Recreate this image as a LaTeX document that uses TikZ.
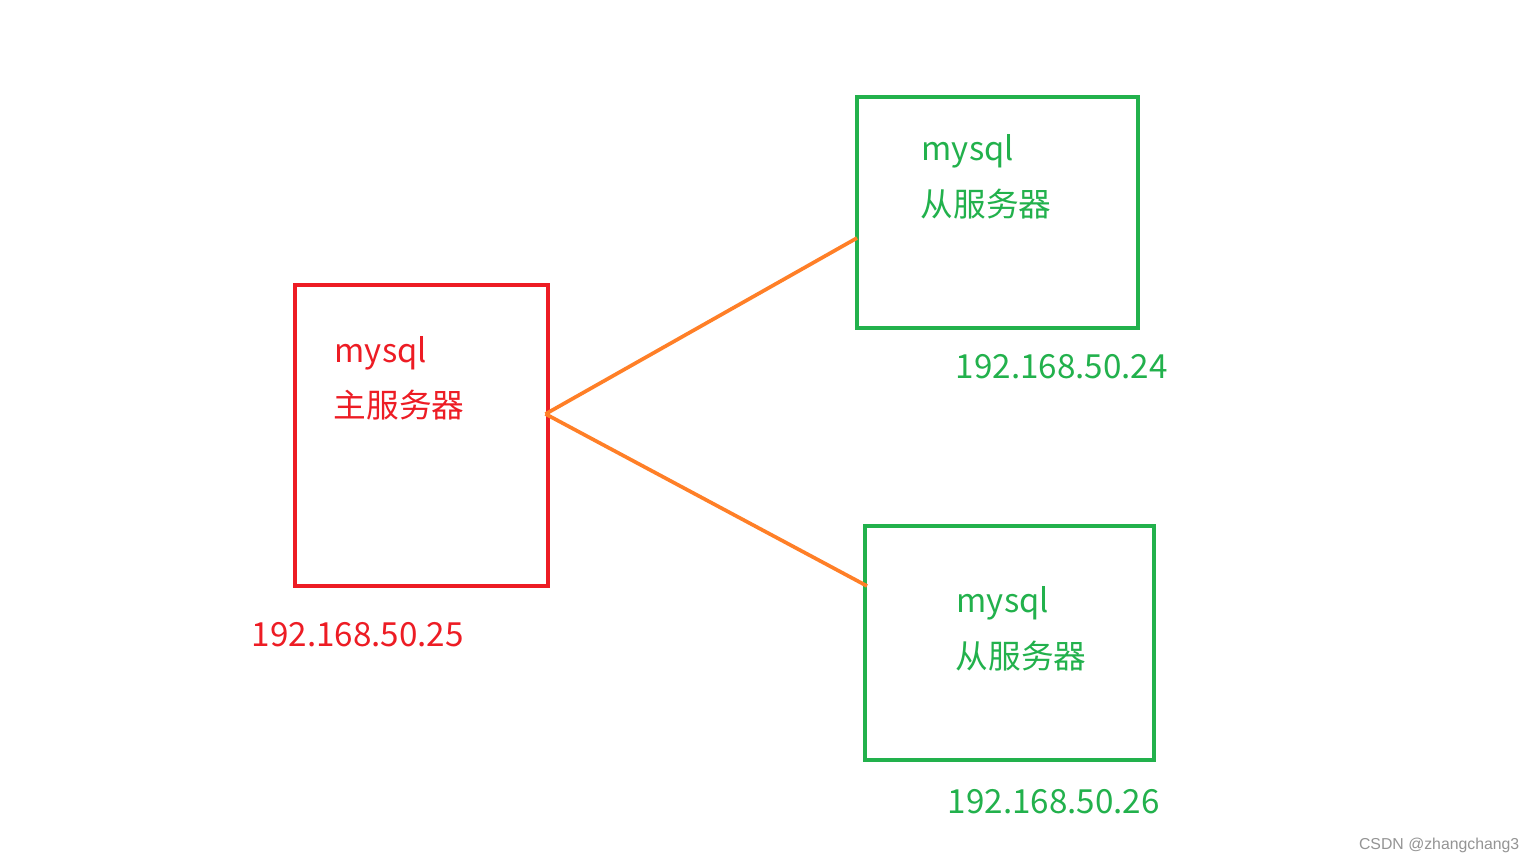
\documentclass[tikz,border=0pt]{standalone}
\usepackage{fontspec}
\setmainfont{Noto Sans CJK SC}
\newfontfamily\markfont{Liberation Sans}
\definecolor{zhured}{HTML}{ED1C24}
\definecolor{conggreen}{HTML}{22B14C}
\definecolor{linkorange}{HTML}{FF7F27}
\tikzset{
  zhubox/.style={draw=zhured, line width=1.1pt, inner sep=0pt},
  congbox/.style={draw=conggreen, line width=1.1pt, inner sep=0pt},
  zhutext/.style={text=zhured, anchor=west, inner sep=0pt, font=\fontsize{9.3}{11}\selectfont},
  congtext/.style={text=conggreen, anchor=west, inner sep=0pt, font=\fontsize{9.3}{11}\selectfont},
  iptext/.style={anchor=west, inner sep=0pt, font=\fontsize{9.45}{11}\selectfont},
  link/.style={draw=linkorange, line width=1.05pt},
}
\begin{document}
\begin{tikzpicture}
    \useasboundingbox[fill=white] (0,0) rectangle (15.36,-8.64);
    % boxes
    \node [zhubox, minimum width=2.53cm, minimum height=3.01cm] (zhu) at (4.215,-4.355) {};
    \node [congbox, minimum width=2.81cm, minimum height=2.31cm] (cong1) at (9.975,-2.125) {};
    \node [congbox, minimum width=2.89cm, minimum height=2.34cm] (cong2) at (10.095,-6.43) {};
    % labels
    \node [zhutext] (zhu_a) at (3.34,-3.53) {mysql};
    \node [zhutext] (zhu_b) at (3.33,-4.05) {主服务器};
    \node [zhutext, iptext] (zhu_ip) at (2.51,-6.35) {192.168.50.25};
    \node [congtext] (cong1_a) at (9.21,-1.51) {mysql};
    \node [congtext] (cong1_b) at (9.20,-2.04) {从服务器};
    \node [congtext, iptext] (cong1_ip) at (9.55,-3.67) {192.168.50.24};
    \node [congtext] (cong2_a) at (9.56,-6.03) {mysql};
    \node [congtext] (cong2_b) at (9.55,-6.56) {从服务器};
    \node [congtext, iptext] (cong2_ip) at (9.47,-8.02) {192.168.50.26};
    \node [anchor=east, inner sep=0pt, text=black!42, font=\markfont\fontsize{4.5}{6}\selectfont] (mark) at (15.2,-8.45) {CSDN @zhangchang3};
    % links
    \coordinate (p0) at (5.455,-4.14);
    \coordinate (p1) at (8.57,-2.38);
    \coordinate (p2) at (8.67,-5.86);
    \draw [link] (p1) to (p0);
    \draw [link] (p0) to (p2);
\end{tikzpicture}
\end{document}
